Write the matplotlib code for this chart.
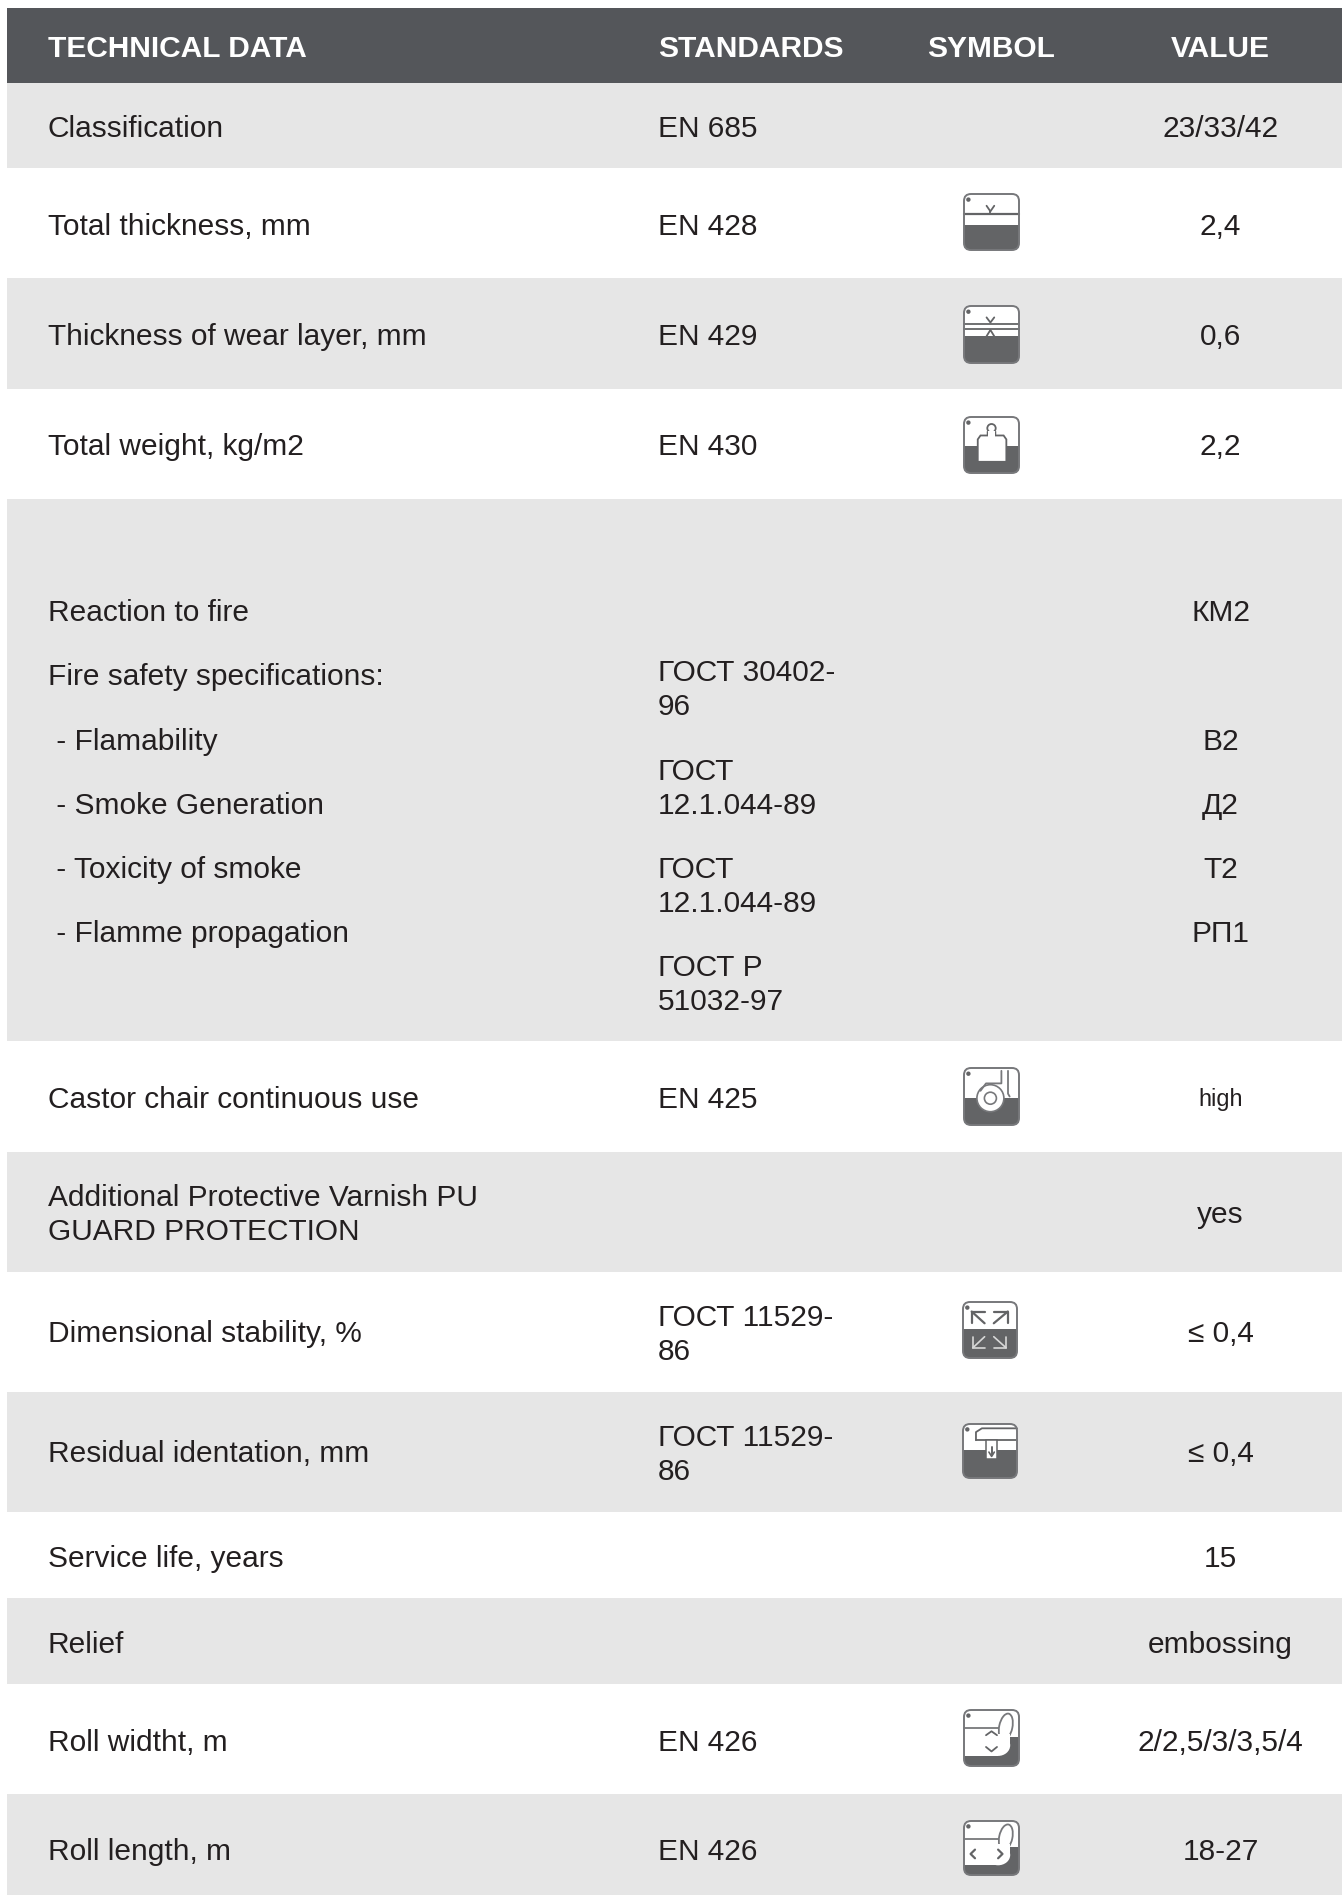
import matplotlib
matplotlib.use("Agg")
import matplotlib.pyplot as plt
from matplotlib.patches import Rectangle, FancyBboxPatch, Circle, Polygon, Ellipse

plt.rcParams['font.family'] = ['Liberation Sans', 'DejaVu Sans']

# ---- content ----
headers = ["TECHNICAL DATA", "STANDARDS", "SYMBOL", "VALUE"]
labels = ["Classification", "Total thickness, mm", "Thickness of wear layer, mm", "Total weight, kg/m2",
          None, "Castor chair continuous use", "Additional Protective Varnish PU\nGUARD PROTECTION",
          "Dimensional stability, %", "Residual identation, mm", "Service life, years", "Relief",
          "Roll widtht, m", "Roll length, m"]
standards = ["EN 685", "EN 428", "EN 429", "EN 430", None, "EN 425", "",
             "ГОСТ 11529-\n86", "ГОСТ 11529-\n86", "", "", "EN 426", "EN 426"]
values = ["23/33/42", "2,4", "0,6", "2,2", None, "high", "yes", "≤ 0,4", "≤ 0,4", "15", "embossing",
          "2/2,5/3/3,5/4", "18-27"]
symbols = [None, "thick", "wear", "weight", None, "castor", None, "dim", "resid", None, None, "rollw", "rolll"]

fire_labels = ["Reaction to fire", "Fire safety specifications:", " - Flamability", " - Smoke Generation",
               " - Toxicity of smoke", " - Flamme propagation"]
fire_values = ["КМ2", "", "В2", "Д2", "Т2", "РП1"]
fire_standards = ["ГОСТ 30402-\n96", "ГОСТ\n12.1.044-89", "ГОСТ\n12.1.044-89", "ГОСТ Р\n51032-97"]

# ---- layout (pixels) ----
W, H = 1342, 1895
left = 7
row_edges = [83, 168, 278, 389, 499, 1041, 1152, 1272, 1392, 1512, 1598, 1684, 1794, 1895]
row_nudge = [2, 2, 2, 1, 0, 2, 1, 0, 0, 2, 2, 2, 6]
std_nudge = [2, 2, 2, 1, 0, 2, 1, 1, 1, 2, 2, 2, 6]
header_top = 8
x_label, x_std, x_sym, x_val = 47.6, 658, 991, 1220.5
fs = 21.55
lh = 34
fire_label_y = [610, 674, 739, 803, 867, 931]
fire_std_y = [687, 786, 884, 982]
icon_boxes = {"thick": (964, 194, 55, 56), "wear": (964, 306, 55, 57), "weight": (964, 417, 55, 56),
              "castor": (964, 1068, 55, 57), "dim": (963, 1302, 54, 56), "resid": (963, 1424, 54, 54),
              "rollw": (964, 1710, 55, 56), "rolll": (964, 1821, 55, 54)}
TXT = "#231f20"; GREY = "#e6e6e6"; HEAD = "#54565a"; ICON = "#636466"; EDGE = "#77787b"

fig = plt.figure(figsize=(W / 100, H / 100), dpi=100)
ax = fig.add_axes([0, 0, 1, 1])
ax.set_xlim(0, W); ax.set_ylim(H, 0); ax.axis("off")

def put(x, y, s, ha="left", size=fs, color=TXT, weight="normal"):
    lines = s.split("\n")
    y0 = y - lh * (len(lines) - 1) / 2
    for i, ln in enumerate(lines):
        ax.text(x, y0 + i * lh + size * 0.36 * 100 / 72, ln, ha=ha, va="baseline",
                fontsize=size, color=color, fontweight=weight)

def icon(kind, box):
    x0, y0, w, h = box
    X = lambda u: x0 + u * w
    Y = lambda v: y0 + v * h
    frame = FancyBboxPatch((x0, y0), w, h, boxstyle="round,pad=0,rounding_size=7",
                           fc="white", ec="none", zorder=3)
    ax.add_patch(frame)
    def fill(u0, v0, u1, v1, c=ICON, z=4):
        r = Rectangle((X(u0), Y(v0)), (u1 - u0) * w, (v1 - v0) * h, fc=c, ec="none", zorder=z)
        ax.add_patch(r); r.set_clip_path(frame)
    def line(us, vs, c=ICON, lw=1.3, z=6):
        ax.plot([X(u) for u in us], [Y(v) for v in vs], color=c, lw=lw, zorder=z, solid_capstyle="round")
    split = {"thick": 0.55, "wear": 0.535, "weight": 0.52, "castor": 0.52, "dim": 0.49,
             "resid": 0.49, "rollw": 0.82, "rolll": 0.82}[kind]
    fill(0, split, 1, 1)
    if kind == "thick":
        line([0, 1], [0.35, 0.35], lw=1.6)
        line([0.41, 0.48, 0.55], [0.21, 0.31, 0.21]); line([0.48, 0.48], [0.3, 0.34])
    elif kind == "wear":
        line([0, 1], [0.32, 0.32]); line([0, 1], [0.4, 0.4])
        line([0.41, 0.48, 0.55], [0.2, 0.29, 0.2]); line([0.41, 0.48, 0.55], [0.53, 0.42, 0.53])
    elif kind == "weight":
        p = Polygon([(X(.25), Y(.8)), (X(.25), Y(.4)), (X(.3), Y(.33)), (X(.43), Y(.33)), (X(.43), Y(.27)),
                     (X(.57), Y(.27)), (X(.57), Y(.33)), (X(.72), Y(.33)), (X(.77), Y(.4)), (X(.77), Y(.8))],
                    fc="white", ec=ICON, lw=1.3, zorder=5); ax.add_patch(p)
        ax.add_patch(Circle((X(.5), Y(.2)), 4.2, fc="white", ec=ICON, lw=1.3, zorder=6))
        fill(.44, .25, .56, .36, "#ffffff", 7)
    elif kind == "castor":
        line([.68, .68, .4, .3], [.05, .27, .27, .4], c=EDGE); line([.8, .8, .83], [.05, .45, .5], c=EDGE)
        fill(.75, split, .8, .6)
        ax.add_patch(Circle((X(.48), Y(.53)), 13.5, fc="white", ec=EDGE, lw=1.2, zorder=5))
        ax.add_patch(Circle((X(.48), Y(.53)), 6, fc="white", ec=EDGE, lw=1.2, zorder=6))
    elif kind == "dim":
        for cu, tu in [(.16, .4), (.83, .57)]:
            line([tu, cu], [.38, .17], lw=1.6)
            line([cu, cu, tu], [.38, .17, .17], lw=1.6)
        for cu, tu in [(.18, .4), (.8, .57)]:
            line([tu, cu], [.62, .82], c="#d8d8d8", lw=1.2)
            line([cu, cu, tu], [.62, .82, .82], c="#d8d8d8", lw=1.2)
    elif kind == "resid":
        fill(.24, .1, 1, .3, "#ffffff", 5)
        line([.24, .24, .35, 1], [.3, .15, .08, .08]); line([.24, 1], [.3, .3])
        r = Rectangle((X(.43), Y(.3)), .2 * w, .35 * h, fc="white", ec=ICON, lw=1.1, zorder=6); ax.add_patch(r)
        line([.53, .53], [.42, .58], lw=1.4, z=7); line([.48, .53, .58], [.52, .6, .52], lw=1.2, z=7)
    elif kind in ("rollw", "rolll"):
        line([0, .68], [.33, .33], c=EDGE)
        fill(.62, .48, 1, split)
        ax.add_patch(Ellipse((X(.62), Y(.63)), .44 * w, .38 * h, fc="white", ec="none", zorder=5))
        ax.add_patch(Ellipse((X(.76), Y(.3)), .24 * w, .48 * h, angle=12, fc="white", ec=EDGE, lw=1.3, zorder=6))
        fill(.6, .42, .84, .6, "#ffffff", 6)
        if kind == "rollw":
            line([.4, .5, .6], [.45, .38, .45]); line([.4, .5, .6], [.66, .74, .66])
        else:
            line([.2, .12, .2], [.53, .61, .69], lw=1.6); line([.62, .7, .62], [.53, .61, .69], lw=1.6)
    ax.add_patch(Circle((X(.08), Y(.1)), 2.2, fc=ICON, ec="none", zorder=8))
    ax.add_patch(FancyBboxPatch((x0, y0), w, h, boxstyle="round,pad=0,rounding_size=7",
                                fc="none", ec=EDGE, lw=1.4, zorder=9))

# header band
ax.add_patch(Rectangle((left, header_top), W - left, row_edges[0] - header_top, fc=HEAD, ec="none"))
for h_txt, x, ha in zip(headers, [x_label, x_std, x_sym, x_val], ["left", "left", "center", "center"]):
    put(x, 46, h_txt, ha=ha, size=fs, color="white", weight="bold")

# rows
for i in range(len(labels)):
    top, bot = row_edges[i], row_edges[i + 1]
    if i % 2 == 0:
        ax.add_patch(Rectangle((left, top), W - left, bot - top, fc=GREY, ec="none"))
    cy = (top + bot) / 2 - 1
    if labels[i] is None:
        continue
    put(x_label, cy + row_nudge[i], labels[i])
    if standards[i]:
        put(x_std, cy + std_nudge[i], standards[i])
    put(x_val, cy + row_nudge[i], values[i], ha="center",
        size=16.9 if values[i] == "high" else fs)
    if symbols[i]:
        icon(symbols[i], icon_boxes[symbols[i]])

# fire block
for s, v, y in zip(fire_labels, fire_values, fire_label_y):
    put(x_label, y, s)
    if v:
        put(x_val, y, v, ha="center")
for s, y in zip(fire_standards, fire_std_y):
    put(x_std, y, s)

fig.savefig("out.png", dpi=100)
